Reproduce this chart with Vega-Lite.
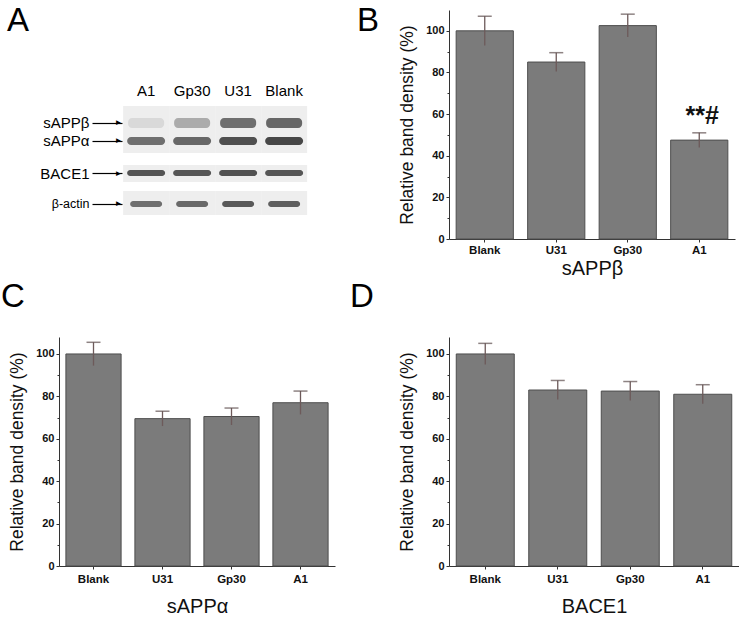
{
  "$schema": "https://vega.github.io/schema/vega-lite/v6.json",
  "padding": {"left": 1, "top": 5, "right": 0, "bottom": 0},
  "background": "white",
  "columns": 2,
  "bounds": "flush",
  "spacing": {"row": 98, "column": 114},
  "config": {
    "view": {"stroke": null},
    "font": "Liberation Sans",
    "axis": {"labelFont": "Liberation Sans", "titleFont": "Liberation Sans", "labelColor": "#111", "titleColor": "#111", "domainColor": "#333", "tickColor": "#333", "grid": false},
    "title": {"font": "Liberation Sans", "fontSize": 33, "fontWeight": "normal", "color": "#000", "anchor": "start", "frame": "group", "baseline": "alphabetic", "offset": 0}
  },
  "datasets": {
    "strips": [
      {"strip": "sAPP", "lane": "A1", "top": 41.9, "bottom": 62.4},
      {"strip": "sAPP", "lane": "Gp30", "top": 41.9, "bottom": 62.4},
      {"strip": "sAPP", "lane": "U31", "top": 41.9, "bottom": 62.4},
      {"strip": "sAPP", "lane": "Blank", "top": 41.9, "bottom": 62.4},
      {"strip": "BACE1", "lane": "A1", "top": 67.7, "bottom": 75.1},
      {"strip": "BACE1", "lane": "Gp30", "top": 67.7, "bottom": 75.1},
      {"strip": "BACE1", "lane": "U31", "top": 67.7, "bottom": 75.1},
      {"strip": "BACE1", "lane": "Blank", "top": 67.7, "bottom": 75.1},
      {"strip": "actin", "lane": "A1", "top": 79.0, "bottom": 89.5},
      {"strip": "actin", "lane": "Gp30", "top": 79.0, "bottom": 89.5},
      {"strip": "actin", "lane": "U31", "top": 79.0, "bottom": 89.5},
      {"strip": "actin", "lane": "Blank", "top": 79.0, "bottom": 89.5}
    ],
    "blot": [
      {"protein": "sAPPβ", "lane": "A1", "migration": 49.3, "intensity": 0.08},
      {"protein": "sAPPβ", "lane": "Gp30", "migration": 49.3, "intensity": 0.28},
      {"protein": "sAPPβ", "lane": "U31", "migration": 49.3, "intensity": 0.56},
      {"protein": "sAPPβ", "lane": "Blank", "migration": 49.3, "intensity": 0.6},
      {"protein": "sAPPα", "lane": "A1", "migration": 57.2, "intensity": 0.74},
      {"protein": "sAPPα", "lane": "Gp30", "migration": 57.2, "intensity": 0.8},
      {"protein": "sAPPα", "lane": "U31", "migration": 57.2, "intensity": 0.96},
      {"protein": "sAPPα", "lane": "Blank", "migration": 57.2, "intensity": 1.0},
      {"protein": "BACE1", "lane": "A1", "migration": 71.2, "intensity": 0.94},
      {"protein": "BACE1", "lane": "Gp30", "migration": 71.2, "intensity": 0.92},
      {"protein": "BACE1", "lane": "U31", "migration": 71.2, "intensity": 0.95},
      {"protein": "BACE1", "lane": "Blank", "migration": 71.2, "intensity": 0.92},
      {"protein": "β-actin", "lane": "A1", "migration": 84.7, "intensity": 0.74},
      {"protein": "β-actin", "lane": "Gp30", "migration": 84.7, "intensity": 0.78},
      {"protein": "β-actin", "lane": "U31", "migration": 84.7, "intensity": 0.9},
      {"protein": "β-actin", "lane": "Blank", "migration": 84.7, "intensity": 0.86}
    ],
    "bars": [
      {"panel": "B", "group": "Blank", "mean": 100, "lower": 93, "upper": 107},
      {"panel": "B", "group": "U31", "mean": 85, "lower": 80.5, "upper": 89.5},
      {"panel": "B", "group": "Gp30", "mean": 102.5, "lower": 97, "upper": 108},
      {"panel": "B", "group": "A1", "mean": 47.5, "lower": 44, "upper": 51, "sig": "**#"},
      {"panel": "C", "group": "Blank", "mean": 100, "lower": 94.5, "upper": 105.5},
      {"panel": "C", "group": "U31", "mean": 69.5, "lower": 66, "upper": 73},
      {"panel": "C", "group": "Gp30", "mean": 70.5, "lower": 66.5, "upper": 74.5},
      {"panel": "C", "group": "A1", "mean": 77, "lower": 71.5, "upper": 82.5},
      {"panel": "D", "group": "Blank", "mean": 100, "lower": 95, "upper": 105},
      {"panel": "D", "group": "U31", "mean": 83, "lower": 78.5, "upper": 87.5},
      {"panel": "D", "group": "Gp30", "mean": 82.5, "lower": 78, "upper": 87},
      {"panel": "D", "group": "A1", "mean": 81, "lower": 76.5, "upper": 85.5}
    ]
  },
  "concat": [
    {
      "width": 276, "height": 229,
      "title": {"text": "A", "dx": -52, "dy": 32},
      "layer": [
        {
          "data": {"name": "strips"},
          "mark": {"type": "rect", "color": "#eeeeee"},
          "encoding": {
            "x": {"field": "lane", "type": "nominal", "sort": ["A1", "Gp30", "U31", "Blank"],
              "scale": {"domain": ["A1", "Gp30", "U31", "Blank"], "paddingInner": 0, "paddingOuter": 1.1186, "align": 0.697},
              "axis": {"orient": "top", "offset": -90, "title": null, "domain": false, "ticks": false, "labelPadding": 2, "labelFontSize": 15, "labelColor": "#000", "labelAngle": 0}},
            "y": {"field": "top", "type": "quantitative", "scale": {"domain": [0, 100], "reverse": true, "nice": false, "zero": false},
              "axis": {"orient": "left", "offset": -63, "values": [49.3, 57.2, 71.2, 84.7],
                "labelExpr": "datum.value < 53 ? 'sAPPβ' : datum.value < 64 ? 'sAPPα' : datum.value < 78 ? 'BACE1' : 'β-actin'",
                "labelFontSize": {"condition": {"test": "datum.value > 80", "value": 12.5}, "value": 15},
                "tickSize": 30, "tickColor": "#000", "tickWidth": 1.2, "domain": false, "labelPadding": 3, "labelColor": "#000", "title": null}},
            "y2": {"field": "bottom"}
          }
        },
        {
          "data": {"name": "blot"},
          "transform": [{"filter": "datum.protein === 'sAPPβ'"}],
          "mark": {"type": "tick", "thickness": 10, "size": 36, "cornerRadius": 4, "opacity": 0.9},
          "encoding": {
            "x": {"field": "lane", "type": "nominal", "sort": ["A1", "Gp30", "U31", "Blank"]},
            "y": {"field": "migration", "type": "quantitative",
              "axis": {"orient": "left", "offset": -63, "values": [49.3, 57.2, 71.2, 84.7], "labelExpr": "'►'", "ticks": false, "domain": false, "labelPadding": 0, "labelFontSize": 8, "labelColor": "#000", "title": null}},
            "color": {"field": "intensity", "type": "quantitative", "scale": {"domain": [0, 1], "range": ["#ebebeb", "#000000"]}, "legend": null}
          }
        },
        {
          "data": {"name": "blot"},
          "transform": [{"filter": "datum.protein === 'sAPPα'"}],
          "mark": {"type": "tick", "thickness": 8, "size": 38, "cornerRadius": 4},
          "encoding": {
            "x": {"field": "lane", "type": "nominal", "sort": ["A1", "Gp30", "U31", "Blank"]},
            "y": {"field": "migration", "type": "quantitative", "axis": null},
            "color": {"field": "intensity", "type": "quantitative", "legend": null}
          }
        },
        {
          "data": {"name": "blot"},
          "transform": [{"filter": "datum.protein === 'BACE1'"}],
          "mark": {"type": "tick", "thickness": 6, "size": 38, "cornerRadius": 3},
          "encoding": {
            "x": {"field": "lane", "type": "nominal", "sort": ["A1", "Gp30", "U31", "Blank"]},
            "y": {"field": "migration", "type": "quantitative", "axis": null},
            "color": {"field": "intensity", "type": "quantitative", "legend": null}
          }
        },
        {
          "data": {"name": "blot"},
          "transform": [{"filter": "datum.protein === 'β-actin'"}],
          "mark": {"type": "tick", "thickness": 6, "size": 32, "cornerRadius": 3},
          "encoding": {
            "x": {"field": "lane", "type": "nominal", "sort": ["A1", "Gp30", "U31", "Blank"]},
            "y": {"field": "migration", "type": "quantitative", "axis": null},
            "color": {"field": "intensity", "type": "quantitative", "legend": null}
          }
        }
      ],
      "resolve": {"axis": {"y": "independent"}}
    },
    {
      "width": 286, "height": 229,
      "title": {"text": "B", "dx": -92, "dy": 32},
      "data": {"name": "bars"},
      "transform": [{"filter": "datum.panel === 'B'"}],
      "layer": [
        {
          "mark": {"type": "bar", "fill": "#7b7b7b", "stroke": "#4e4e4e", "strokeWidth": 1},
          "encoding": {
            "x": {"field": "group", "type": "nominal", "sort": ["Blank", "U31", "Gp30", "A1"], "scale": {"paddingInner": 0.2, "paddingOuter": 0.1},
              "axis": {"title": "sAPPβ", "titleFontSize": 20, "titleFontWeight": "normal", "titlePadding": 3, "labelAngle": 0, "labelFontWeight": "bold", "labelFontSize": 11.5, "labelPadding": 2, "tickSize": 3}},
            "y": {"field": "mean", "type": "quantitative", "scale": {"domain": [0, 110], "nice": false},
              "axis": {"orient": "left", "values": [0, 20, 40, 60, 80, 100], "title": "Relative band density (%)", "titleFontSize": 17.5, "titleFontWeight": "normal", "labelFontWeight": "bold", "labelFontSize": 11, "tickSize": 3, "labelPadding": 2, "minExtent": 24, "maxExtent": 24, "titlePadding": 9}}
          }
        },
        {
          "mark": {"type": "rule", "color": "#6d5a5a", "strokeWidth": 1.3},
          "encoding": {
            "x": {"field": "group", "type": "nominal", "sort": ["Blank", "U31", "Gp30", "A1"]},
            "y": {"field": "lower", "type": "quantitative",
              "axis": {"orient": "left", "values": [10, 30, 50, 70, 90], "labels": false, "domain": false, "tickSize": 2, "title": null}},
            "y2": {"field": "upper"}
          }
        },
        {
          "mark": {"type": "tick", "color": "#5e4f4f", "size": 14, "thickness": 1.5},
          "encoding": {
            "x": {"field": "group", "type": "nominal", "sort": ["Blank", "U31", "Gp30", "A1"]},
            "y": {"field": "upper", "type": "quantitative", "axis": null}
          }
        },
        {
          "transform": [{"filter": "datum.sig"}],
          "mark": {"type": "text", "fontSize": 25, "fontWeight": "bold", "baseline": "bottom", "dy": -4, "dx": 3, "color": "#111"},
          "encoding": {
            "x": {"field": "group", "type": "nominal", "sort": ["Blank", "U31", "Gp30", "A1"]},
            "y": {"field": "upper", "type": "quantitative", "axis": null},
            "text": {"field": "sig"}
          }
        }
      ],
      "resolve": {"axis": {"y": "independent"}}
    },
    {
      "width": 276, "height": 229,
      "title": {"text": "C", "dx": -58, "dy": -19},
      "data": {"name": "bars"},
      "transform": [{"filter": "datum.panel === 'C'"}],
      "layer": [
        {
          "mark": {"type": "bar", "fill": "#7b7b7b", "stroke": "#4e4e4e", "strokeWidth": 1},
          "encoding": {
            "x": {"field": "group", "type": "nominal", "sort": ["Blank", "U31", "Gp30", "A1"], "scale": {"paddingInner": 0.2, "paddingOuter": 0.1},
              "axis": {"title": "sAPPα", "titleFontSize": 20, "titleFontWeight": "normal", "titlePadding": 12, "labelAngle": 0, "labelFontWeight": "bold", "labelFontSize": 11.5, "labelPadding": 4, "tickSize": 3}},
            "y": {"field": "mean", "type": "quantitative", "scale": {"domain": [0, 108], "nice": false},
              "axis": {"orient": "left", "values": [0, 20, 40, 60, 80, 100], "title": "Relative band density (%)", "titleFontSize": 17.5, "titleFontWeight": "normal", "labelFontWeight": "bold", "labelFontSize": 11, "tickSize": 3, "labelPadding": 2, "minExtent": 24, "maxExtent": 24, "titlePadding": 9}}
          }
        },
        {
          "mark": {"type": "rule", "color": "#6d5a5a", "strokeWidth": 1.3},
          "encoding": {
            "x": {"field": "group", "type": "nominal", "sort": ["Blank", "U31", "Gp30", "A1"]},
            "y": {"field": "lower", "type": "quantitative",
              "axis": {"orient": "left", "values": [10, 30, 50, 70, 90], "labels": false, "domain": false, "tickSize": 2, "title": null}},
            "y2": {"field": "upper"}
          }
        },
        {
          "mark": {"type": "tick", "color": "#5e4f4f", "size": 14, "thickness": 1.5},
          "encoding": {
            "x": {"field": "group", "type": "nominal", "sort": ["Blank", "U31", "Gp30", "A1"]},
            "y": {"field": "upper", "type": "quantitative", "axis": null}
          }
        }
      ],
      "resolve": {"axis": {"y": "independent"}}
    },
    {
      "width": 290, "height": 229,
      "title": {"text": "D", "dx": -99, "dy": -19},
      "data": {"name": "bars"},
      "transform": [{"filter": "datum.panel === 'D'"}],
      "layer": [
        {
          "mark": {"type": "bar", "fill": "#7b7b7b", "stroke": "#4e4e4e", "strokeWidth": 1},
          "encoding": {
            "x": {"field": "group", "type": "nominal", "sort": ["Blank", "U31", "Gp30", "A1"], "scale": {"paddingInner": 0.2, "paddingOuter": 0.1},
              "axis": {"title": "BACE1", "titleFontSize": 20, "titleFontWeight": "normal", "titlePadding": 12, "labelAngle": 0, "labelFontWeight": "bold", "labelFontSize": 11.5, "labelPadding": 4, "tickSize": 3}},
            "y": {"field": "mean", "type": "quantitative", "scale": {"domain": [0, 108], "nice": false},
              "axis": {"orient": "left", "values": [0, 20, 40, 60, 80, 100], "title": "Relative band density (%)", "titleFontSize": 17.5, "titleFontWeight": "normal", "labelFontWeight": "bold", "labelFontSize": 11, "tickSize": 3, "labelPadding": 2, "minExtent": 24, "maxExtent": 24, "titlePadding": 9}}
          }
        },
        {
          "mark": {"type": "rule", "color": "#6d5a5a", "strokeWidth": 1.3},
          "encoding": {
            "x": {"field": "group", "type": "nominal", "sort": ["Blank", "U31", "Gp30", "A1"]},
            "y": {"field": "lower", "type": "quantitative",
              "axis": {"orient": "left", "values": [10, 30, 50, 70, 90], "labels": false, "domain": false, "tickSize": 2, "title": null}},
            "y2": {"field": "upper"}
          }
        },
        {
          "mark": {"type": "tick", "color": "#5e4f4f", "size": 14, "thickness": 1.5},
          "encoding": {
            "x": {"field": "group", "type": "nominal", "sort": ["Blank", "U31", "Gp30", "A1"]},
            "y": {"field": "upper", "type": "quantitative", "axis": null}
          }
        }
      ],
      "resolve": {"axis": {"y": "independent"}}
    }
  ]
}
